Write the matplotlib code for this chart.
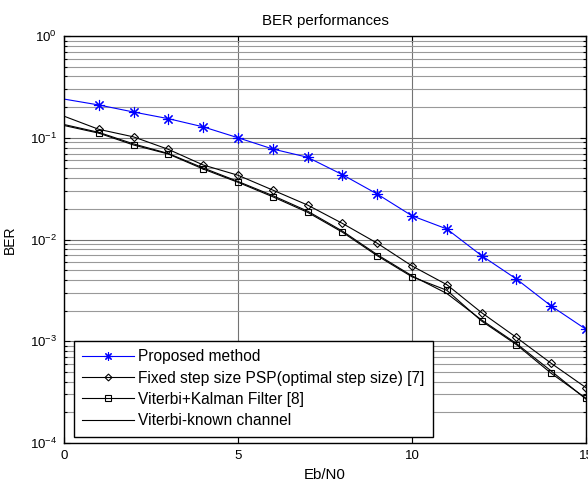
import numpy as np
import matplotlib
matplotlib.use("Agg")
import matplotlib.pyplot as plt
from matplotlib.ticker import LogLocator, NullFormatter, FixedLocator

plt.rcParams['font.family'] = ['Liberation Sans', 'DejaVu Sans']
plt.rcParams['mathtext.default'] = 'regular'

# Eb/N0 (dB)
ebn0 = np.arange(0, 16)

# BER values
ber_proposed = [0.240, 0.210, 0.179, 0.154, 0.128, 0.100, 0.0775, 0.0643,
                0.0434, 0.0280, 0.0171, 0.0127, 0.00694, 0.00409, 0.00222, 0.00131]
ber_fixed = [0.163, 0.121, 0.102, 0.0769, 0.0540, 0.0428, 0.0306, 0.0218,
             0.0144, 0.0092, 0.0055, 0.0036, 0.00191, 0.00109, 0.000607, 0.00035]
ber_kalman = [0.132, 0.111, 0.0849, 0.0692, 0.0493, 0.0365, 0.0263, 0.0185,
              0.0118, 0.00693, 0.0043, 0.00317, 0.00158, 0.000927, 0.000484, 0.000275]
ber_known = [0.135, 0.113, 0.0870, 0.0700, 0.0505, 0.0372, 0.0270, 0.0190,
             0.0121, 0.00710, 0.0044, 0.00295, 0.00162, 0.00095, 0.00051, 0.00027]

labels = ["Proposed method",
          "Fixed step size PSP(optimal step size) [7]",
          "Viterbi+Kalman Filter [8]",
          "Viterbi-known channel"]

fig = plt.figure(figsize=(5.88, 4.82), dpi=100)
ax = fig.add_axes([0.1088, 0.0809, 0.8878, 0.8444])

# no marker drawn at Eb/N0 = 0 (sits on the axis in the original)
mk = slice(1, None)
ax.semilogy(ebn0, ber_proposed, color='#0000ff', lw=0.8, marker=(8, 2, 0),
            ms=8, mew=0.8, markevery=mk, label=labels[0])
ax.semilogy(ebn0, ber_fixed, color='black', lw=0.8, marker='D', ms=4,
            mfc='none', mew=0.8, markevery=mk, label=labels[1])
ax.semilogy(ebn0, ber_kalman, color='black', lw=0.8, marker='s', ms=5,
            mfc='none', mew=0.8, markevery=mk, label=labels[2])
ax.semilogy(ebn0, ber_known, color='black', lw=0.8, label=labels[3])

ax.set_xlim(0, 15)
ax.set_ylim(1e-4, 1e0)
ax.xaxis.set_major_locator(FixedLocator([0, 5, 10, 15]))
ax.yaxis.set_major_locator(LogLocator(base=10, numticks=10))
ax.yaxis.set_minor_locator(LogLocator(base=10, subs=np.arange(2, 10), numticks=20))
ax.yaxis.set_minor_formatter(NullFormatter())

ax.grid(True, which='major', axis='both', color='0.45', lw=0.8)
ax.grid(True, which='minor', axis='y', color='0.6', lw=0.8)
ax.set_axisbelow(True)

ax.tick_params(which='both', direction='in', top=True, right=True,
               labelsize=9.5, length=4, width=0.8, pad=5)
ax.tick_params(which='minor', length=2.5)
for s in ax.spines.values():
    s.set_linewidth(1.0)

ax.set_title("BER performances", fontsize=10.8, pad=8)
ax.set_xlabel("Eb/N0", fontsize=10.8, labelpad=4)
ax.set_ylabel("BER", fontsize=10, labelpad=9)

leg = ax.legend(loc='lower left', bbox_to_anchor=(0.019, 0.0155), fontsize=11.2,
                numpoints=1, handlelength=3.3, handletextpad=0.25,
                labelspacing=0.4, borderpad=0.55, borderaxespad=0,
                fancybox=False, framealpha=1, edgecolor='black')
leg.get_frame().set_linewidth(1.0)
for h, ms in zip(leg.legend_handles, [6, 3.5, 5, 0]):
    h.set_markersize(ms)

fig.savefig("out.png", dpi=100)
